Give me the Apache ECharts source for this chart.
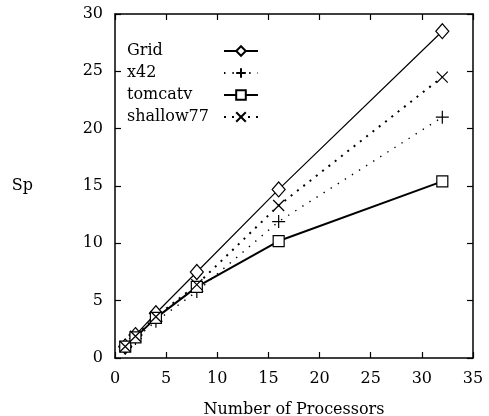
<!DOCTYPE html>
<html>
<head>
<meta charset="utf-8">
<script src="https://cdn.jsdelivr.net/npm/echarts@6/dist/echarts.min.js"></script>
<style>
  html, body { margin: 0; padding: 0; background: #fff; }
  #chart { width: 489px; height: 416px; }
</style>
</head>
<body>
<div id="chart"></div>
<script>
// processor counts and speedups
const procs = [1, 2, 4, 8, 16, 32];
const gridSp = [1.0, 2.0, 3.9, 7.5, 14.7, 28.5];
const x42Sp = [0.9, 1.7, 3.2, 5.8, 11.9, 21.0];
const tomcatvSp = [1.0, 1.8, 3.5, 6.2, 10.2, 15.4];
const shallowSp = [1.0, 1.9, 3.6, 6.4, 13.3, 24.5];
const xTicks = [0, 5, 10, 15, 20, 25, 30, 35];
const yTicks = [0, 5, 10, 15, 20, 25, 30];

const FONT = '"DejaVu Serif", "Liberation Serif", serif';
const plus = 'path://M0,-6L0,6M-6,0L6,0';
const cross = 'path://M-5,-5L5,5M-5,5L5,-5';

const pts = ys => procs.map((p, i) => [p, ys[i]]);

const chart = echarts.init(document.getElementById('chart'));

function mkSeries(name, ys, symbol, size, line) {
  return {
    name: name,
    type: 'line',
    data: pts(ys),
    symbol: symbol,
    symbolSize: size,
    showAllSymbol: true,
    animation: false,
    lineStyle: Object.assign({ color: '#000' }, line),
    itemStyle: { color: symbol.startsWith('path') ? '#000' : '#fff', borderColor: '#000', borderWidth: 1.2 },
    emphasis: { disabled: true }
  };
}

const axisCommon = {
  type: 'value',
  interval: 5,
  axisLine: { show: true, onZero: false, lineStyle: { color: '#000', width: 1.5 } },
  axisTick: { show: true, inside: true, length: 6, lineStyle: { color: '#000', width: 1.2 } },
  splitLine: { show: false }
};

chart.setOption({
  backgroundColor: '#fff',
  animation: false,
  grid: { left: 115, right: 16, top: 14, bottom: 58, outerBoundsMode: 'none', containLabel: false },
  legend: {
    orient: 'vertical',
    left: 122,
    top: 38,
    align: 'right',
    itemWidth: 34,
    itemHeight: 12,
    itemGap: 6,
    selectedMode: false,
    formatter: '{a|{name}}',
    textStyle: {
      fontFamily: FONT, fontSize: 16, color: '#000',
      rich: { a: { width: 92, align: 'left', fontFamily: FONT, fontSize: 16, lineHeight: 17, color: '#000' } }
    },
    data: ['Grid', 'x42', 'tomcatv', 'shallow77']
  },
  xAxis: [
    Object.assign({}, axisCommon, {
      min: xTicks[0], max: xTicks[xTicks.length - 1],
      name: 'Number of Processors', nameLocation: 'middle', nameGap: 44,
      nameTextStyle: { fontFamily: FONT, fontSize: 16, color: '#000' },
      axisLabel: { fontFamily: FONT, fontSize: 16, color: '#000', margin: 13 }
    }),
    Object.assign({}, axisCommon, {
      position: 'top', min: xTicks[0], max: xTicks[xTicks.length - 1],
      axisLabel: { show: false }
    })
  ],
  yAxis: [
    Object.assign({}, axisCommon, {
      min: yTicks[0], max: yTicks[yTicks.length - 1],
      name: 'Sp', nameLocation: 'middle', nameGap: 82, nameRotate: 0,
      nameTextStyle: { fontFamily: FONT, fontSize: 16, color: '#000' },
      axisLabel: { fontFamily: FONT, fontSize: 16, color: '#000', margin: 12 }
    }),
    Object.assign({}, axisCommon, {
      position: 'right', min: yTicks[0], max: yTicks[yTicks.length - 1],
      axisLabel: { show: false }
    })
  ],
  series: [
    mkSeries('Grid', gridSp, 'diamond', [13, 15], { width: 1.2, type: 'solid' }),
    mkSeries('x42', x42Sp, plus, 13, { width: 1.4, type: [1.4, 7] }),
    mkSeries('tomcatv', tomcatvSp, 'rect', 11, { width: 2, type: 'solid' }),
    mkSeries('shallow77', shallowSp, cross, 11, { width: 2, type: [2, 6] })
  ]
});
</script>
</body>
</html>
